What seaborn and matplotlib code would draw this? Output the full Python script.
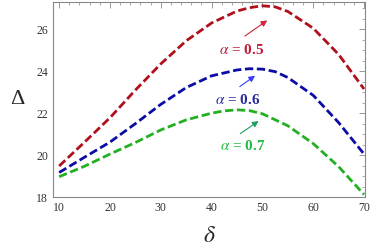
import matplotlib
matplotlib.use("Agg")
import matplotlib.pyplot as plt
import seaborn as sns
import pandas as pd
from matplotlib.ticker import MultipleLocator

delta_05 = [10, 15, 20, 25, 30, 35, 40, 45, 47.5, 50, 52.5, 55, 60, 65, 70]
alpha_05 = [19.48, 20.62, 21.78, 23.1, 24.35, 25.45, 26.3, 26.87, 27.03, 27.12, 27.07, 26.85, 26.05, 24.8, 23.15]
delta_06 = [10, 15, 20, 25, 30, 35, 40, 45, 47.5, 50, 52.5, 55, 60, 65, 70]
alpha_06 = [19.17, 19.9, 20.62, 21.5, 22.42, 23.22, 23.78, 24.06, 24.12, 24.1, 23.98, 23.7, 22.85, 21.55, 20.05]
delta_07 = [10, 15, 20, 25, 30, 35, 40, 42.5, 45, 47.5, 50, 55, 60, 65, 70]
alpha_07 = [18.97, 19.47, 20.05, 20.6, 21.2, 21.68, 22.0, 22.11, 22.16, 22.12, 21.97, 21.4, 20.55, 19.45, 18.12]
labels = ["α = 0.5", "α = 0.6", "α = 0.7"]
line_colors = ["#b0101c", "#0b0ba6", "#22b022"]
text_colors = ["#c01a3a", "#2a2a9a", "#22bb44"]
arrow_colors = ["#d0203a", "#3a3aff", "#1fa060"]

rows = []
for lab, ds, vals in zip(labels, [delta_05, delta_06, delta_07], [alpha_05, alpha_06, alpha_07]):
    for d, v in zip(ds, vals):
        rows.append({"delta": d, "Delta": v, "alpha": lab})
df = pd.DataFrame(rows)

sns.set_style("white")
plt.rcParams["mathtext.fontset"] = "stix"
plt.rcParams["font.family"] = ["Liberation Serif", "DejaVu Serif"]

fig = plt.figure(figsize=(3.71, 2.52), dpi=100)
ax = fig.add_axes([0.143, 0.218, 0.841, 0.774])

sns.lineplot(data=df, x="delta", y="Delta", hue="alpha", palette=line_colors,
             linewidth=2.0, ax=ax, legend=False, sort=True)
for ln in ax.get_lines():
    ln.set_dashes((3.0, 1.3))
    ln.set_solid_joinstyle("round")
    ln.set_dash_joinstyle("round")

ax.set_xlim(8.8, 70.2)
ax.set_ylim(18.0, 27.3)
ax.xaxis.set_major_locator(MultipleLocator(10))
ax.xaxis.set_minor_locator(MultipleLocator(2))
ax.yaxis.set_major_locator(MultipleLocator(2))
ax.yaxis.set_minor_locator(MultipleLocator(0.5))
ax.tick_params(which="both", direction="in", top=True, right=True, colors="#888888",
               labelcolor="#333333", labelsize=8.5)
ax.tick_params(which="major", length=4, width=0.6)
ax.tick_params(which="minor", length=2, width=0.5)
for s in ax.spines.values():
    s.set_color("#888888")
    s.set_linewidth(0.8)

ax.set_xlabel("$\\delta$", fontsize=17, labelpad=9)
ax.set_ylabel("Δ", fontsize=16, rotation=0, labelpad=14, va="center")

# annotations: (text pos, arrow tail, arrow head)
ann = [((46.0, 25.0), (46.1, 25.6), (51.4, 26.5)),
       ((45.1, 22.65), (45.1, 23.19), (49.0, 23.86)),
       ((46.1, 20.43), (45.2, 20.95), (49.7, 21.7))]
for lab, tc, ac, (tp, tail, head) in zip(labels, text_colors, arrow_colors, ann):
    ax.text(tp[0], tp[1], "$\\alpha$ = " + lab.split("= ")[1], color=tc, fontsize=11,
            fontweight="bold", ha="center", va="center")
    ax.annotate("", xy=head, xytext=tail,
                arrowprops=dict(arrowstyle="-|>", color=ac, lw=0.8, mutation_scale=9))

fig.savefig("out.png", dpi=100)
